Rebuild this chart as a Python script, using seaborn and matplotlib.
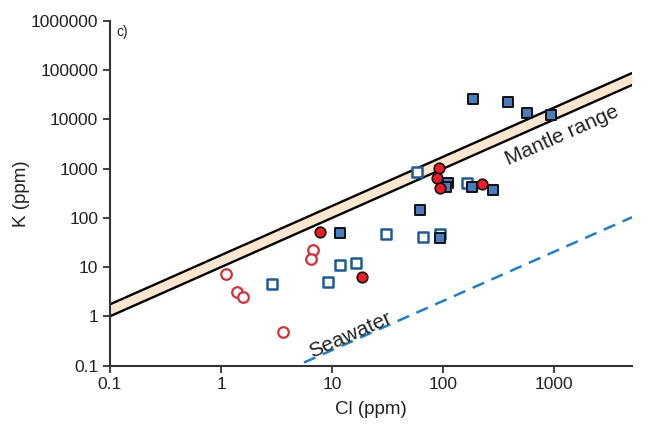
import numpy as np
import pandas as pd
import matplotlib
matplotlib.use("Agg")
import matplotlib.pyplot as plt
import seaborn as sns

# ---- data ----
filled_blue_cl = [184, 384, 569, 938, 110, 106, 180, 279, 62, 11.8, 93]
filled_blue_k = [26200, 22800, 13600, 12200, 503, 430, 417, 369, 146, 48.6, 38.5]

open_blue_cl = [57.5, 163, 30.5, 66, 93, 11.8, 16.4, 2.86, 9.2]
open_blue_k = [871, 503, 47, 40, 47, 11, 12.3, 4.6, 4.96]

filled_red_cl = [92, 88, 93, 222, 7.76, 18.4]
filled_red_k = [1050, 656, 400, 479, 52.5, 6.3]

open_red_cl = [6.76, 6.45, 1.11, 1.38, 1.59, 3.62]
open_red_k = [22, 14.5, 7.3, 3.1, 2.45, 0.48]

line_cl = [0.1, 5000]
mantle_ratio_low = 10.0
mantle_ratio_high = 17.5
seawater_ratio = 0.0206

xticks = [0.1, 1, 10, 100, 1000]
xticklabels = ["0.1", "1", "10", "100", "1000"]
yticks = [0.1, 1, 10, 100, 1000, 10000, 100000, 1000000]
yticklabels = ["0.1", "1", "10", "100", "1000", "10000", "100000", "1000000"]

# ---- style ----
sns.set_style("ticks")
plt.rcParams["font.family"] = ["Liberation Sans", "DejaVu Sans"]

fig = plt.figure(figsize=(6.70, 4.28), dpi=100)
ax = fig.add_axes([110 / 670, (428 - 365.5) / 428, (632 - 110) / 670, (365.5 - 21) / 428])

# mantle band
lc = np.array(line_cl)
ax.fill_between(lc, lc * mantle_ratio_low, lc * mantle_ratio_high, color="#fde6cf", zorder=1, lw=0)
sns.lineplot(x=lc, y=lc * mantle_ratio_low, ax=ax, color="black", lw=1.7, zorder=2)
sns.lineplot(x=lc, y=lc * mantle_ratio_high, ax=ax, color="black", lw=1.7, zorder=2)
# seawater
sns.lineplot(x=lc, y=lc * seawater_ratio, ax=ax, color="#1f7fc8", lw=1.8, zorder=2,
             linestyle=(0, (5, 3.2)))

# points
sz = 58
sns.scatterplot(x=open_red_cl, y=open_red_k, ax=ax, marker="o", s=sz, facecolor="white",
                edgecolor="#d1323a", linewidth=1.6, zorder=3)
sns.scatterplot(x=open_blue_cl, y=open_blue_k, ax=ax, marker="s", s=sz, facecolor="white",
                edgecolor="#1f5a96", linewidth=1.8, zorder=3)
sns.scatterplot(x=filled_blue_cl, y=filled_blue_k, ax=ax, marker="s", s=sz, facecolor="#4a7dc0",
                edgecolor="#111111", linewidth=1.4, zorder=4)
sns.scatterplot(x=filled_red_cl, y=filled_red_k, ax=ax, marker="o", s=sz, facecolor="#ec1c24",
                edgecolor="#111111", linewidth=1.2, zorder=5)

ax.set_xscale("log")
ax.set_yscale("log")
ax.set_xlim(0.1, 5000)
ax.set_ylim(0.1, 1000000)
ax.set_xticks(xticks)
ax.set_xticklabels(xticklabels)
ax.set_yticks(yticks)
ax.set_yticklabels(yticklabels)
ax.minorticks_off()
ax.tick_params(axis="both", labelsize=12.5, colors="#333333", length=5, width=1.3,
               labelcolor="#222222")
for s in ["top", "right"]:
    ax.spines[s].set_visible(False)
for s in ["left", "bottom"]:
    ax.spines[s].set_color("#333333")
    ax.spines[s].set_linewidth(1.5)

ax.set_xlabel("Cl (ppm)", fontsize=13.5, color="#222222", labelpad=6)
ax.set_ylabel("K (ppm)", fontsize=13.5, color="#222222")
ax.yaxis.set_label_coords(-0.153, 0.5)

ang = np.degrees(np.arctan(49.2 / 111.0))
ax.text(1170, 4700, "Mantle range", rotation=ang, rotation_mode="anchor", ha="center",
        va="center", fontsize=15, color="#222222")
ax.text(14.5, 0.42, "Seawater", rotation=ang, rotation_mode="anchor", ha="center",
        va="center", fontsize=15, color="#222222")
ax.text(0.115, 600000, "c)", fontsize=10, color="#222222", ha="left", va="center")

fig.savefig("out.png", dpi=100)
